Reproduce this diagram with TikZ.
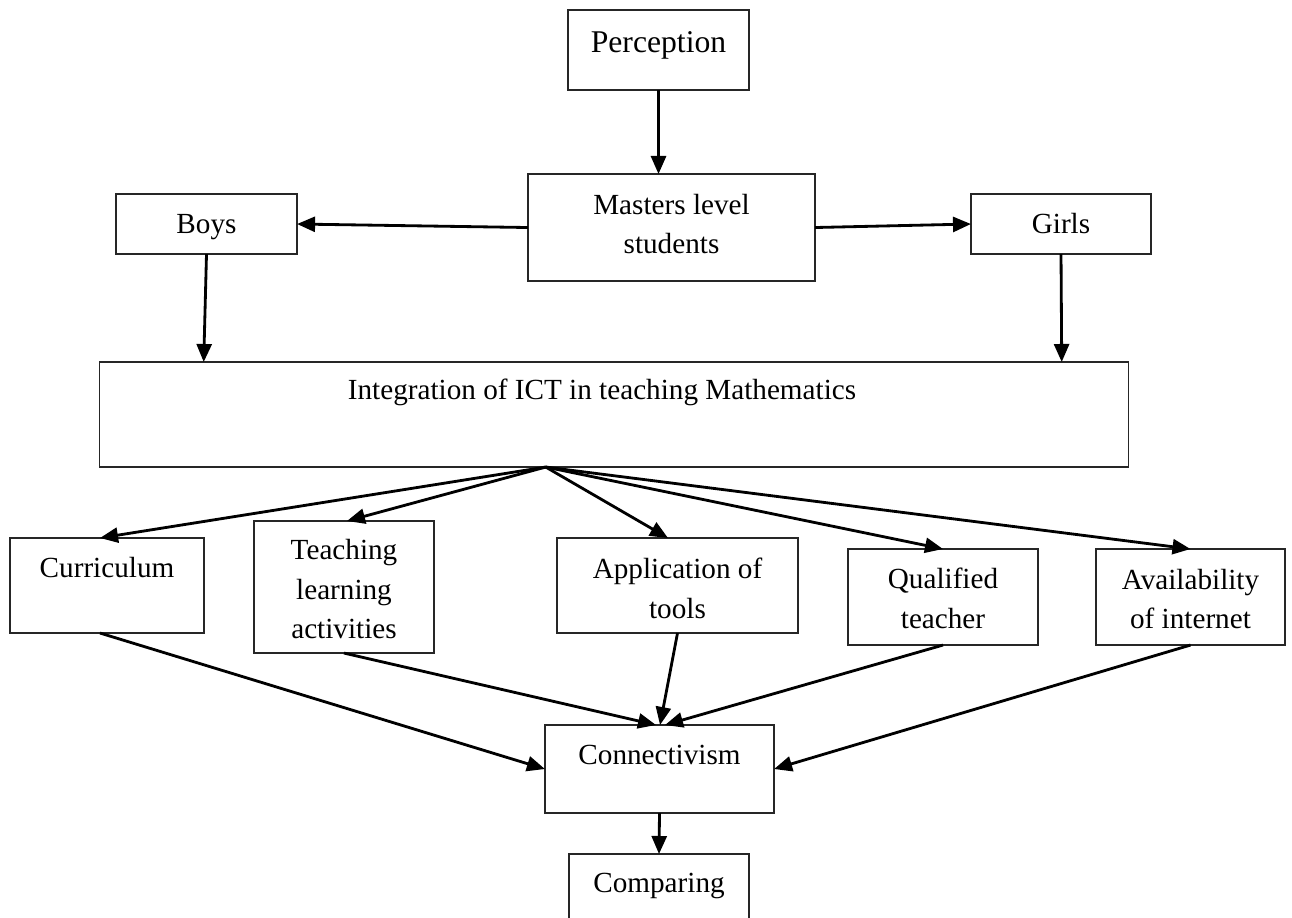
\documentclass[tikz,border=0pt]{standalone}
\usepackage{fontspec}
\setmainfont{Liberation Serif}
\usetikzlibrary{arrows.meta,calc}
\begin{document}
\begin{tikzpicture}[x=0.01cm,y=-0.01cm]
\tikzset{
  box/.style={draw=black!85, line width=0.45pt, inner sep=0pt, outer sep=0pt},
  txt/.style={font=\fontsize{8.3}{11.3}\selectfont, align=center, inner sep=0pt},
  one/.style={text height=1.6ex, text depth=0.4ex},
  arr/.style={line width=0.8pt, -{Triangle[length=0.18cm,width=0.15cm]}},
}
\useasboundingbox (0,0) rectangle (1292,917);
\clip (0,0) rectangle (1292,917);
\fill[white] (0,0) rectangle (1292,917);

% boxes
\node[box, minimum width=1.81cm, minimum height=0.80cm] (per) at (658.5,50) {};
\node[box, minimum width=2.87cm, minimum height=1.07cm] (mas) at (671.5,227.5) {};
\node[box, minimum width=1.81cm, minimum height=0.60cm] (boys) at (206.5,224) {};
\node[box, minimum width=1.80cm, minimum height=0.60cm] (girls) at (1061,224) {};
\node[box, minimum width=10.28cm, minimum height=1.05cm] (int) at (614,414.5) {};
\node[box, minimum width=1.94cm, minimum height=0.95cm] (cur) at (107,585.5) {};
\node[box, minimum width=1.80cm, minimum height=1.32cm] (tea) at (344,587) {};
\node[box, minimum width=2.41cm, minimum height=0.95cm] (app) at (677.5,585.5) {};
\node[box, minimum width=1.90cm, minimum height=0.96cm] (qua) at (943,597) {};
\node[box, minimum width=1.89cm, minimum height=0.96cm] (ava) at (1190.5,597) {};
\node[box, minimum width=2.29cm, minimum height=0.88cm] (con) at (659.5,769) {};
\node[box, minimum width=1.80cm, minimum height=0.90cm] (com) at (659,899) {};

% texts
\node[txt, one, font=\fontsize{9}{11.3}\selectfont] (perT) at (658.5,43) {Perception};
\node[txt] (masT) at (671.5,224) {Masters level\\students};
\node[txt, one] (boysT) at (206.5,224) {Boys};
\node[txt, one] (girlsT) at (1061,224) {Girls};
\node[txt, one] (intT) at (602,390) {Integration of ICT in teaching Mathematics};
\node[txt, one] (curT) at (107,568) {Curriculum};
\node[txt] (teaT) at (344,589) {Teaching\\learning\\activities};
\node[txt] (appT) at (677.5,588) {Application of\\tools};
\node[txt] (quaT) at (943,598) {Qualified\\teacher};
\node[txt] (avaT) at (1190.5,599) {Availability\\of internet};
\node[txt, one] (conT) at (659.5,755) {Connectivism};
\node[txt, one] (comT) at (659,883) {Comparing};

% connector points
\coordinate (fan) at ($(int.south west)+(446,0)$);
\coordinate (intL) at ($(int.north west)+(104,0)$);
\coordinate (intR) at ($(int.north west)+(962,0)$);
\coordinate (conTop) at ($(con.north)+(0.5,0)$);

% connectors
\draw[arr] (per.south) -- (per.south |- mas.north);
\draw[arr] (mas.west) -- (boys.east);
\draw[arr] (mas.east) -- (girls.west);
\draw[arr] (boys.south) -- (intL);
\draw[arr] (girls.south) -- (intR);

\draw[arr] (fan) -- ($(cur.north)+(-7,0)$);
\draw[arr] (fan) -- ($(tea.north)+(3,0)$);
\draw[arr] (fan) -- ($(app.north)+(-9.5,0)$);
\draw[arr] (fan) -- (qua.north);
\draw[arr] (fan) -- (ava.north);

\draw[arr] ($(cur.south)+(-7,0)$) -- (con.west);
\draw[arr] (tea.south) -- ($(conTop)+(-4,0)$);
\draw[arr] (app.south) -- (conTop);
\draw[arr] (qua.south) -- ($(conTop)+(5,0)$);
\draw[arr] (ava.south) -- (con.east);
\draw[arr] (con.south) -- (com.north);
\end{tikzpicture}
\end{document}
